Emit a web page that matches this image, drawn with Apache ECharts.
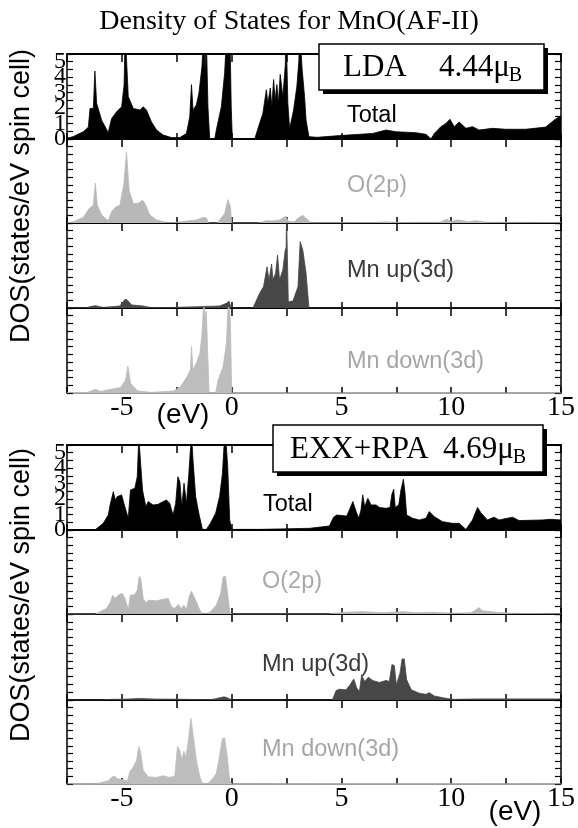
<!DOCTYPE html>
<html><head><meta charset="utf-8">
<script src="https://cdn.jsdelivr.net/npm/echarts@6/dist/echarts.min.js"></script>
<style>html,body{margin:0;padding:0;background:#fff}#c{width:578px;height:828px}</style>
</head><body><div id="c"></div>
<script>
// ---------- DATA (energy in eV, DOS in states/eV spin cell) ----------
const xTicks = [-5, 0, 5, 10, 15];
const yTicks = [0, 1, 2, 3, 4, 5];
const curveNames = ['Total', 'O(2p)', 'Mn up(3d)', 'Mn down(3d)'];
const panelNames = ['LDA', 'EXX+RPA'];
const momentValues = ['4.44', '4.69'];

// LDA
const eLdaTotal = [-7.5,-7.23,-6.76,-6.53,-6.45,-6.3,-6.23,-6.15,-5.92,-5.62,-5.47,-5.24,-5.01,-4.9,-4.85,-4.8,-4.71,-4.48,-4.18,-4.03,-3.88,-3.65,-3.42,-3.12,-2.74,-2.36,-2.06,-1.91,-1.83,-1.76,-1.61,-1.49,-1.35,-1.28,-1.25,-1.21,-1.16,-1.13,-1.08,-1.0,-0.77,-0.7,-0.47,-0.32,-0.22,-0.08,-0.02,0.03,1.05,1.2,1.42,1.58,1.65,1.76,1.83,1.91,1.98,2.06,2.13,2.21,2.33,2.44,2.48,2.52,2.56,2.64,2.71,2.82,2.97,3.06,3.1,3.15,3.21,3.32,3.39,3.52,3.9,4.91,6.42,7.03,7.48,8.39,8.85,9.08,9.23,9.53,9.76,9.94,10.14,10.36,10.67,10.97,11.27,11.88,12.48,13.39,14.3,14.68,14.9,15];
const dLdaTotal = [0.05,0.15,0.47,0.76,1.98,1.98,4.4,2.31,1.21,0.41,1.32,1.76,2.09,3.5,7,7,2.75,1.98,1.87,2.09,1.87,1.1,0.58,0.26,0.09,0.09,0.36,1.43,3.52,1.87,2.2,2.97,4.73,7,7,4.29,7,7,2.09,0,0,0.58,2.09,4.29,7,7,2.09,0,0,0.69,1.65,3.19,2.31,3.3,2.09,3.85,2.53,3.52,2.31,4.18,2.75,4.73,7,7,2.31,0.66,0.77,1.87,3.41,5.06,7,7,4.51,2.75,1.21,0.15,0.11,0.22,0.36,0.58,0.47,0.41,0.3,0,0.36,0.8,1.01,1.28,0.8,1.1,0.69,0.8,0.58,0.69,0.63,0.63,0.77,1.21,1.43,1.5];

const eLdaO2p = [-7.5,-7.21,-6.76,-6.49,-6.3,-6.21,-6.12,-5.92,-5.62,-5.47,-5.27,-5.09,-4.91,-4.79,-4.67,-4.48,-4.26,-4.06,-3.91,-3.73,-3.42,-2.97,-2.52,-2.06,-1.61,-1.3,-1.15,-1.05,-0.67,-0.55,-0.32,-0.17,-0.06,0,1.2,1.39,1.58,1.88,2.18,2.48,2.56,2.86,3.0,3.24,3.47,3.6,6.5,7.0,7.5,9.5,9.8,10.0,10.3,10.8,11.1,11.6,15];
const dLdaO2p = [0,0.09,0.36,0.95,1.17,2.61,1.17,0.52,0.15,0.74,1.06,1.17,2.56,4.62,2.13,1.28,1.28,1.49,1.17,0.52,0.2,0.04,0.04,0.13,0.2,0.36,0.33,0,0,0.2,0.63,1.53,1.06,0,0,0.07,0.15,0.13,0.2,0.45,0.13,0.07,0.3,0.5,0.2,0.02,0.03,0.08,0.03,0.05,0.25,0.1,0.2,0.08,0.15,0.05,0.03];

const eLdaMnUp = [-7.5,-6.6,-6.45,-6.21,-5.85,-5.09,-4.86,-4.76,-4.56,-4.03,-3.73,-3.0,-0.55,-0.24,-0.12,-0.03,0.97,1.27,1.45,1.61,1.7,1.82,1.88,2.0,2.09,2.18,2.33,2.44,2.48,2.5,2.53,2.58,2.79,3.02,3.12,3.24,3.39,3.52,15];
const dLdaMnUp = [0,0.02,0.09,0.15,0.04,0.13,0.56,0.52,0.2,0.13,0.04,0.02,0.13,0.3,0.45,0,0,0.95,1.38,2.67,1.82,2.85,1.82,2.24,3.43,1.82,2.46,3.75,3.9,6,6,0.41,0.45,1.38,4.29,3.75,2.24,0,0];

const eLdaMnDn = [-7.5,-6.6,-6.2,-5.97,-5.67,-5.06,-4.83,-4.73,-4.6,-4.3,-3.7,-2.64,-2.33,-2.03,-1.88,-1.83,-1.76,-1.61,-1.45,-1.35,-1.27,-1.2,-1.15,-1.11,-1.03,-0.73,-0.62,-0.39,-0.24,-0.15,-0.06,0,15];
const dLdaMnDn = [0.02,0.03,0.24,0.09,0.2,0.36,0.84,1.75,0.63,0.15,0.04,0.13,0.41,1.06,1.49,3.0,1.49,1.93,2.56,3.85,6,4.95,5.28,3.41,0,0,0.84,1.71,3.21,6,4.73,0,0];

// EXX+RPA
const eExxTotal = [-7.5,-6.23,-6.15,-5.85,-5.62,-5.52,-5.39,-5.3,-5.21,-5.12,-5.01,-4.91,-4.71,-4.61,-4.41,-4.3,-4.23,-4.15,-4.06,-3.91,-3.8,-3.58,-3.35,-3.12,-2.97,-2.82,-2.67,-2.55,-2.45,-2.36,-2.27,-2.17,-2.06,-1.95,-1.88,-1.82,-1.76,-1.64,-1.48,-1.33,-1.15,-0.97,-0.73,-0.55,-0.42,-0.35,-0.27,-0.18,-0.09,0,1.27,3.55,4.45,4.64,4.79,5.24,5.36,5.52,5.67,5.79,5.89,5.97,6.06,6.2,6.35,6.58,6.73,7.03,7.21,7.3,7.38,7.45,7.61,7.71,7.82,7.89,7.97,8.24,8.55,8.85,9.0,9.23,9.61,10.06,10.36,10.67,10.97,11.2,11.35,11.65,11.95,12.18,12.79,13.09,14.15,14.53,15];
const dExxTotal = [0,0,0.11,0.43,0.97,1.73,2.48,1.94,2.16,2.05,2.27,1.73,0.76,2.59,2.7,3.45,6,6,2.59,1.51,1.84,1.62,1.66,1.84,1.94,1.73,0.97,1.73,3.45,3.12,1.51,3.03,1.73,3.66,5.17,6,4.51,2.16,0.97,0.04,0.04,0.43,1.08,2.16,3.66,5.39,6,4.1,0.65,0.04,0.04,0.11,0.26,0.83,0.97,0.9,1.3,1.84,1.19,0.76,1.3,2.27,1.51,2.05,1.62,1.62,1.46,1.4,1.46,2.33,2.63,1.46,1.62,2.59,3.28,2.48,0.97,0.76,0.65,0.76,1.19,0.86,0.54,0.43,0.43,0.04,0.65,1.46,1.12,0.65,0.83,0.65,0.83,0.61,0.65,0.69,0.65];

const eExxO2p = [-7.5,-6.2,-6.14,-5.7,-5.52,-5.42,-5.32,-5.21,-5.09,-4.98,-4.86,-4.71,-4.61,-4.41,-4.3,-4.21,-4.14,-4.03,-3.91,-3.8,-3.42,-3.12,-2.89,-2.74,-2.59,-2.44,-2.29,-2.18,-2.06,-1.94,-1.83,-1.73,-1.61,-1.45,-1.35,-1.08,-0.92,-0.7,-0.5,-0.39,-0.29,-0.2,-0.09,0,4.4,4.6,5.06,5.97,6.88,7.79,8.39,9.15,10.21,10.89,11.12,11.24,11.42,12.03,12.94,15];
const dExxO2p = [0,0,0.09,0.36,0.8,1.23,1.01,1.17,1.3,1.34,1.01,0.3,1.23,1.28,1.55,2.46,2.31,1.01,0.74,0.9,0.86,0.97,1.01,0.47,0.36,0.63,0.36,0.58,0.3,1.12,1.49,1.17,0.8,0.26,0.04,0.04,0.22,0.58,1.34,2.42,2.46,1.55,0.15,0,0,0.04,0.11,0.15,0.09,0.15,0.09,0.11,0.04,0.09,0.26,0.43,0.22,0.11,0.04,0.02];

const eExxMnUp = [-7.5,-6.0,-5.5,-4.9,-4.2,-3.5,-2.5,-1.4,-0.9,-0.35,-0.2,0,4.5,4.6,4.76,4.91,5.21,5.39,5.56,5.7,5.82,5.92,6.05,6.23,6.42,6.73,7.03,7.18,7.3,7.41,7.5,7.67,7.76,7.86,7.97,8.18,8.55,8.85,9.0,9.23,9.61,10.06,11.27,14.76,15];
const dExxMnUp = [0,0,0.04,0.05,0.1,0.06,0.05,0.02,0.03,0.2,0.15,0,0,0.04,0.61,0.69,0.65,0.97,1.34,0.76,0.54,1.62,1.19,1.46,1.25,1.12,1.25,1.19,2.27,2.2,0.97,1.73,2.63,2.63,1.3,0.65,0.43,0.36,0.47,0.26,0.15,0.04,0.07,0.07,0.07];

const eExxMnDn = [-7.5,-6.3,-6.0,-5.62,-5.47,-5.36,-5.21,-4.94,-4.74,-4.64,-4.48,-4.33,-4.23,-4.15,-4.03,-3.8,-3.42,-3.12,-2.82,-2.59,-2.47,-2.36,-2.27,-2.18,-2.09,-1.97,-1.86,-1.76,-1.61,-1.45,-1.33,-1.08,-0.92,-0.7,-0.55,-0.42,-0.32,-0.2,-0.09,0,5,10,15];
const dExxMnDn = [0,0,0.07,0.22,0.43,0.52,0.36,0.26,0.2,0.8,1.12,1.55,2.46,2.09,0.9,0.47,0.43,0.54,0.43,0.52,2.46,2.2,1.55,2.16,1.77,2.85,4.3,3.28,1.55,0.47,0.04,0.04,0.26,0.69,1.88,2.96,3.03,1.77,0.26,0,0.02,0.02,0];

// ---------- LAYOUT ----------
const curves = [
  [eLdaTotal, dLdaTotal], [eLdaO2p, dLdaO2p], [eLdaMnUp, dLdaMnUp], [eLdaMnDn, dLdaMnDn],
  [eExxTotal, dExxTotal], [eExxO2p, dExxO2p], [eExxMnUp, dExxMnUp], [eExxMnDn, dExxMnDn]
];
const fillColors = ['#000000', '#b8b8b8', '#474747', '#bdbdbd'];
const labelColors = ['#000000', '#aaaaaa', '#3a3a3a', '#a6a6a6'];
const gridTops = [54, 139, 223, 308, 445, 530, 614, 700];
const gridHeights = [85, 84, 85, 85, 85, 84, 86, 84];
const labelPos = [[347,116],[347,186],[347,271],[347,362],[263,505],[262,582],[262,665],[262,750]];

const SERIF = '"Liberation Serif","Times New Roman",serif';
const SANS = '"Liberation Sans",Arial,sans-serif';

const grids = [], xAxes = [], yAxes = [], series = [];
for (let i = 0; i < 8; i++) {
  const k = i % 4;
  const isFirst = k === 0, isLast = k === 3;
  grids.push({left: 67, width: 494, top: gridTops[i], height: gridHeights[i]});
  xAxes.push({
    gridIndex: i, type: 'value', min: -7.5, max: 15, interval: 2.5, position: 'bottom',
    axisLine: {show: true, onZero: false, lineStyle: {color: isLast ? '#9a9a9a' : '#000', width: 2}},
    axisTick: {show: true, inside: true, length: 6, lineStyle: {color: '#000', width: 1.5}},
    axisLabel: {show: isLast, color: '#000', fontFamily: SERIF, fontSize: 28, margin: 1,
      formatter: v => (xTicks.indexOf(v) >= 0 ? String(v) : '')},
    splitLine: {show: false}
  });
  xAxes.push({
    gridIndex: i, type: 'value', min: -7.5, max: 15, interval: 2.5, position: 'top',
    axisLine: {show: isFirst, onZero: false, lineStyle: {color: '#000', width: 2}},
    axisTick: {show: true, inside: true, length: 8, lineStyle: {color: '#000', width: 1.5}},
    axisLabel: {show: false}, splitLine: {show: false}
  });
  yAxes.push({
    gridIndex: i, type: 'value', min: 0, max: 5.5, interval: 0.5, position: 'left',
    axisLine: {show: true, onZero: false, lineStyle: {color: '#000', width: 1.5}},
    axisTick: {show: true, inside: true, length: 6, lineStyle: {color: '#000', width: 1.2}},
    axisLabel: {show: isFirst, color: '#000', fontFamily: SERIF, fontSize: 24, margin: 1,
      formatter: v => (yTicks.indexOf(v) >= 0 ? String(v) : '')},
    splitLine: {show: false}
  });
  yAxes.push({
    gridIndex: i, type: 'value', min: 0, max: 5.5, interval: 0.5, position: 'right',
    axisLine: {show: true, onZero: false, lineStyle: {color: '#000', width: 1.5}},
    axisTick: {show: true, inside: true, length: 6, lineStyle: {color: '#000', width: 1.2}},
    axisLabel: {show: false}, splitLine: {show: false}
  });
  const [ex, dy] = curves[i];
  series.push({
    name: panelNames[Math.floor(i / 4)] + ' ' + curveNames[k],
    type: 'line', xAxisIndex: 2 * i, yAxisIndex: 2 * i,
    data: ex.map((e, j) => [e, dy[j]]),
    showSymbol: false, symbol: 'none', clip: true, silent: true,
    lineStyle: {color: fillColors[k], width: 0.8},
    areaStyle: {color: fillColors[k], opacity: 1}
  });
}

// measure helper
const mctx = document.createElement('canvas').getContext('2d');
function tw(text, font) { mctx.font = font; return mctx.measureText(text).width; }

const graphics = [];
graphics.push({type: 'text', x: 289, y: 22, z: 100,
  style: {text: 'Density of States for MnO(AF-II)', font: '28px ' + SERIF, fill: '#000', align: 'center', verticalAlign: 'middle'}});
[196, 595].forEach(cy => graphics.push({type: 'text', x: 22, y: cy, rotation: Math.PI / 2, z: 100,
  style: {text: 'DOS(states/eV spin cell)', font: '27px ' + SANS, fill: '#000', align: 'center', verticalAlign: 'middle'}}));
for (let i = 0; i < 8; i++) {
  const k = i % 4;
  graphics.push({type: 'text', x: labelPos[i][0], y: labelPos[i][1], z: 100,
    style: {text: curveNames[k], font: '23.5px ' + SANS, fill: labelColors[k], align: 'left', verticalAlign: 'middle'}});
}
// boxes
const boxes = [
  {x: 319, y: 44, w: 225, h: 46, nameX: 343, valX: 439},
  {x: 273, y: 425, w: 270, h: 47, nameX: 290, valX: 443}
];
boxes.forEach((b, p) => {
  const cy = b.y + b.h / 2 + 1;
  const bigFont = '31px ' + SERIF;
  graphics.push({type: 'rect', z: 99, shape: {x: b.x + 4, y: b.y + 4, width: b.w, height: b.h}, style: {fill: '#000'}});
  graphics.push({type: 'rect', z: 100, shape: {x: b.x, y: b.y, width: b.w, height: b.h}, style: {fill: '#fff', stroke: '#000', lineWidth: 1.5}});
  graphics.push({type: 'text', z: 101, x: b.nameX, y: cy,
    style: {text: panelNames[p], font: bigFont, fill: '#000', align: 'left', verticalAlign: 'middle'}});
  const vt = momentValues[p] + 'μ';
  graphics.push({type: 'text', z: 101, x: b.valX, y: cy,
    style: {text: vt, font: bigFont, fill: '#000', align: 'left', verticalAlign: 'middle'}});
  graphics.push({type: 'text', z: 101, x: b.valX + tw(vt, bigFont) - 1, y: cy + 8,
    style: {text: 'B', font: '20px ' + SERIF, fill: '#000', align: 'left', verticalAlign: 'middle'}});
});
// (eV) labels
[[183, 415], [515, 812]].forEach(p => graphics.push({type: 'text', x: p[0], y: p[1], z: 100,
  style: {text: '(eV)', font: '28px ' + SANS, fill: '#000', align: 'center', verticalAlign: 'middle'}}));

const chart = echarts.init(document.getElementById('c'), null, {renderer: 'canvas'});
chart.setOption({
  animation: false,
  backgroundColor: '#fff',
  grid: grids, xAxis: xAxes, yAxis: yAxes, series: series,
  graphic: graphics
});
</script></body></html>
